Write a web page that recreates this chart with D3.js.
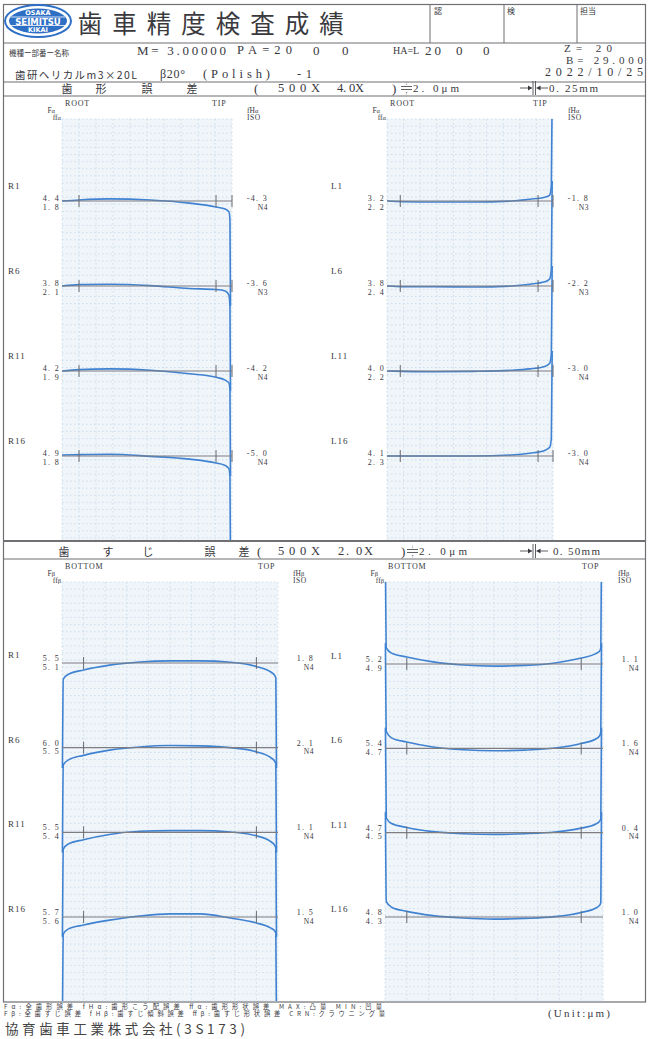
<!DOCTYPE html>
<html><head><meta charset="utf-8">
<script src="https://cdn.jsdelivr.net/npm/d3@7"></script>
<style>body{margin:0;background:#fff}svg{display:block}</style>
</head><body>
<svg id="c" width="649" height="1039"></svg>
<script>
// ---------- DATA ----------
const profileRowsR = ["R1", "R6", "R11", "R16"];
const profileRowsL = ["L1", "L6", "L11", "L16"];
// normalized position along evaluation (0 = ROOT, 1 = TIP)
const profilePosR = [0, 0.1, 0.28, 0.52, 0.75, 0.906, 0.96, 0.982, 0.988, 0.991];
const profilePosL = [0, 0.1, 0.28, 0.52, 0.75, 0.86, 0.95, 0.98, 0.99, 0.995];
// deviation in µm
const profileDevR = [
  [0, 0.3, 0.6, 0.3, -0.6, -1.7, -2.3, -3.1, -5.4, -30],
  [0, 0.4, 0.5, 0.1, -0.7, -1.0, -1.4, -2.6, -6.0, -30],
  [0, 0.4, 0.6, 0.2, -0.8, -1.8, -2.6, -3.4, -5.5, -30],
  [0.3, 0.4, 0.5, -0.1, -0.9, -2.0, -2.7, -3.6, -6.0, -30]
];
const profileDevL = [
  [0, -0.2, -0.3, -0.3, 0, 0.5, 1.1, 1.7, 4.5, 30],
  [0, -0.2, -0.2, -0.3, 0, 0.5, 1.2, 2.0, 5.0, 30],
  [0, -0.1, -0.2, -0.1, 0.2, 0.6, 1.3, 2.2, 5.0, 30],
  [0, 0, 0, 0, 0.3, 0.8, 1.6, 2.5, 5.0, 30]
];
const profileFaR = ["4. 4", "3. 8", "4. 2", "4. 9"];
const profileFfaR = ["1. 8", "2. 1", "1. 9", "1. 8"];
const profileFHaR = ["-4. 3", "-3. 6", "-4. 2", "-5. 0"];
const profileIsoR = ["N4", "N3", "N4", "N4"];
const profileFaL = ["3. 2", "3. 8", "4. 0", "4. 1"];
const profileFfaL = ["2. 2", "2. 4", "2. 2", "2. 3"];
const profileFHaL = ["-1. 8", "-2. 2", "-3. 0", "-3. 0"];
const profileIsoL = ["N3", "N3", "N4", "N4"];

const leadRowsR = ["R1", "R6", "R11", "R16"];
const leadRowsL = ["L1", "L6", "L11", "L16"];
// normalized position along face width (0 = BOTTOM, 1 = TOP)
const leadPos = [0.002, 0.006, 0.03, 0.1, 0.22, 0.36, 0.5, 0.64, 0.78, 0.9, 0.965, 0.985, 0.99, 0.993];
const leadDevR = [
  [-30, -4.6, -3.2, -2.0, -0.6, 0.3, 0.6, 0.6, 0.2, -1.0, -2.5, -3.6, -4.3, -30],
  [-30, -4.9, -3.5, -2.2, -0.7, 0.2, 0.6, 0.5, 0.0, -1.2, -2.8, -3.9, -4.6, -30],
  [-30, -4.8, -3.3, -2.1, -0.6, 0.3, 0.5, 0.5, 0.1, -1.0, -2.6, -3.7, -4.5, -30],
  [-30, -4.9, -3.4, -2.3, -0.9, 0.3, 0.9, 0.9, -0.3, -1.7, -3.1, -4.0, -4.6, -30]
];
const leadDevL = [
  [30, 4.6, 3.1, 2.0, 0.6, -0.3, -0.6, -0.4, 0.3, 1.7, 2.9, 3.7, 4.6, 30],
  [30, 4.8, 3.0, 1.8, 0.4, -0.4, -0.7, -0.5, 0.1, 1.4, 2.6, 3.6, 4.8, 30],
  [30, 4.2, 2.6, 1.5, 0.3, -0.3, -0.5, -0.3, 0.2, 1.3, 2.4, 3.3, 4.0, 30],
  [30, 4.4, 2.8, 1.6, 0.4, -0.3, -0.6, -0.4, 0.1, 1.3, 2.5, 3.4, 4.2, 30]
];
const leadFbR = ["5. 5", "6. 0", "5. 5", "5. 7"];
const leadFfbR = ["5. 1", "5. 5", "5. 4", "5. 6"];
const leadFHbR = ["1. 8", "2. 1", "1. 1", "1. 5"];
const leadIsoR = ["N4", "N4", "N4", "N4"];
const leadFbL = ["5. 2", "5. 4", "4. 7", "4. 8"];
const leadFfbL = ["4. 9", "4. 7", "4. 5", "4. 3"];
const leadFHbL = ["1. 1", "1. 6", "0. 4", "1. 0"];
const leadIsoL = ["N4", "N4", "N4", "N4"];

// ---------- DRAWING ----------
const svg = d3.select("#c");
const INK = "#38383e", FRAME = "#6f6f74", BLUE = "#3f82d2";
const SERIF = "'Liberation Serif','DejaVu Serif',serif";
const JP = "'Noto Sans CJK JP','Noto Sans',sans-serif";

function txt(x, y, s, o = {}) {
  const t = svg.append("text").attr("x", x).attr("y", y).text(s)
    .attr("font-family", o.ff || SERIF).attr("font-size", o.fs || 10)
    .attr("fill", o.fill || INK).attr("text-anchor", o.anchor || "start")
    .attr("dominant-baseline", "central")
    .attr("letter-spacing", o.ls || 0).attr("font-weight", o.fw || 400);
  if (o.tl) t.attr("textLength", o.tl).attr("lengthAdjust", "spacing");
  return t;
}
function hline(x1, x2, y, w = 1, c = FRAME) {
  svg.append("line").attr("x1", x1).attr("x2", x2).attr("y1", y).attr("y2", y).attr("stroke", c).attr("stroke-width", w);
}
function vline(x, y1, y2, w = 1, c = FRAME) {
  svg.append("line").attr("x1", x).attr("x2", x).attr("y1", y1).attr("y2", y2).attr("stroke", c).attr("stroke-width", w);
}

// frame
svg.append("rect").attr("x", 3.5).attr("y", 4.5).attr("width", 642).attr("height", 997.5)
  .attr("fill", "none").attr("stroke", FRAME).attr("stroke-width", 1.2);
hline(3, 646, 43);
hline(3, 646, 82);
hline(3, 646, 96);
hline(3, 646, 541, 2);
hline(3, 646, 559);
vline(430, 4, 43); vline(504, 4, 43); vline(577, 4, 43);

// logo
const logo = svg.append("g").attr("transform", "translate(38,21)");
logo.append("ellipse").attr("rx", 33).attr("ry", 16).attr("fill", "#fff").attr("stroke", "#2e6fc6").attr("stroke-width", 2);
logo.append("ellipse").attr("rx", 29).attr("ry", 12.5).attr("fill", "#2e6fc6");
logo.append("line").attr("x1", -27).attr("x2", 27).attr("y1", -4).attr("y2", -4).attr("stroke", "#fff").attr("stroke-width", 0.8);
logo.append("line").attr("x1", -27).attr("x2", 27).attr("y1", 4.5).attr("y2", 4.5).attr("stroke", "#fff").attr("stroke-width", 0.8);
[["OSAKA", -8, 6.5], ["SEIMITSU", 0.5, 8.5], ["KIKAI", 8.8, 6.5]].forEach(([s, y, fs]) =>
  logo.append("text").attr("y", y).attr("text-anchor", "middle").attr("dominant-baseline", "central")
    .attr("font-family", "'DejaVu Sans',sans-serif").attr("font-weight", 700).attr("font-size", fs)
    .attr("fill", "#fff").text(s));

// title
const titleChars = ["歯", "車", "精", "度", "検", "査", "成", "績"];
titleChars.forEach((ch, i) => txt(90 + i * 34.5, 22, ch, { ff: JP, fs: 24.5, anchor: "middle", fill: "#3a3a3e" }));
txt(434, 10, "認", { ff: JP, fs: 8 });
txt(507, 10, "検", { ff: JP, fs: 8 });
txt(580, 10, "担当", { ff: JP, fs: 8 });

// header rows
txt(9, 52, "機種ー部番ー名称", { ff: JP, fs: 7.5 });
txt(137, 50, "M= 3.00000", { fs: 13, tl: 89 });
txt(237, 50, "PA=20", { fs: 12.5, tl: 55 });
txt(313, 50, "0", { fs: 13 });
txt(342, 50, "0", { fs: 13 });
txt(393, 50, "HA=L", { fs: 10 });
txt(425, 50, "20", { fs: 13, tl: 16 });
txt(456, 50, "0", { fs: 13 });
txt(483, 50, "0", { fs: 13 });
txt(564, 48, "Z= 20", { fs: 11, tl: 48 });
txt(566, 59.5, "B= 29.000", { fs: 11, tl: 77 });
txt(545, 71.5, "2022/10/25", { fs: 12, tl: 98 });
txt(15, 74, "歯研ヘリカルm3×20L", { ff: JP, fs: 10.5, tl: 122 });
txt(160, 74, "β20°", { fs: 12, tl: 25 });
txt(203, 74, "(Polish)", { fs: 12.5, tl: 67 });
txt(297, 74, "-1", { fs: 12.5, tl: 15 });

function sectionHeader(y, chars, xs, p) {
  chars.forEach((ch, i) => txt(xs[i], y, ch, { ff: JP, fs: 11, anchor: "middle" }));
  txt(p.paren1, y, "(", { fs: 13 });
  txt(p.z1x, y, p.z1, { fs: 12.5, tl: 42 });
  txt(p.z2x, y, p.z2, { fs: 12.5, tl: p.z2w });
  txt(p.paren2, y, ")", { fs: 13 });
  // scale symbol
  const sx = p.symx;
  hline(sx, sx + 11, y - 1.5, 0.8, INK); hline(sx, sx + 11, y + 1.5, 0.8, INK);
  txt(sx + 5.5, y - 5, "↓", { fs: 5, anchor: "middle" });
  txt(sx + 5.5, y + 5, "↑", { fs: 5, anchor: "middle" });
  txt(sx + 12, y, p.pitch, { fs: 11, tl: p.pitchw });
  // pitch arrows
  const ax = p.arrx;
  hline(ax, ax + 12, y, 0.8, INK);
  svg.append("path").attr("d", `M${ax + 12},${y} l-4,-2.5 l0,5 z`).attr("fill", INK);
  vline(ax + 13, y - 7, y + 7, 0.8, INK); vline(ax + 15.5, y - 7, y + 7, 0.8, INK);
  hline(ax + 16.5, ax + 28, y, 0.8, INK);
  svg.append("path").attr("d", `M${ax + 16.5},${y} l4,-2.5 l0,5 z`).attr("fill", INK);
  txt(p.lenx, y, p.len, { fs: 11, tl: p.lenw });
}
sectionHeader(88, ["歯", "形", "誤", "差"], [67, 101, 147, 192],
  { paren1: 254, z1x: 278, z1: "500X", z2x: 337, z2: "4. 0X", z2w: 27, paren2: 392, symx: 401, pitch: "2. 0μm", pitchw: 46,
    arrx: 520, lenx: 549, len: "0. 25mm", lenw: 49 });
sectionHeader(551, ["歯", "す", "じ", "誤", "差"], [64, 108, 148, 210, 244],
  { paren1: 257, z1x: 278, z1: "500X", z2x: 338, z2: "2. 0X", z2w: 35, paren2: 401, symx: 407, pitch: "2. 0μm", pitchw: 48,
    arrx: 520, lenx: 553, len: "0. 50mm", lenw: 47 });

// ---------- PANELS ----------
let clipId = 0;
function panel(cfg) {
  const x = d3.scaleLinear().domain([0, 1]).range([cfg.x0, cfg.x1]);
  const yRow = d3.scalePoint().domain(cfg.rows).range([cfg.r0, cfg.r1]);
  const yDev = d3.scaleLinear().domain([-1, 1]).range([3.5, -3.5]);
  const g = svg.append("g");
  // grid background
  g.append("rect").attr("x", cfg.x0).attr("y", cfg.y0).attr("width", cfg.x1 - cfg.x0).attr("height", cfg.y1 - cfg.y0)
    .attr("fill", "#f0f5f9");
  const gl = g.append("g").attr("stroke", "#c3d8ea").attr("stroke-width", 0.8).attr("stroke-dasharray", "1.5,2.5");
  d3.range(0, 1.0001, 0.1).forEach(t => gl.append("line").attr("x1", x(t)).attr("x2", x(t)).attr("y1", cfg.y0).attr("y2", cfg.y1));
  d3.range(cfg.y0, cfg.y1, 7.1).forEach(yy => gl.append("line").attr("x1", cfg.x0).attr("x2", cfg.x1).attr("y1", yy).attr("y2", yy));
  // header labels
  txt(cfg.x0 + 3, cfg.y0 - 16, cfg.lt, { fs: 8, ls: 0.8 });
  txt(cfg.x1 - cfg.rtw, cfg.y0 - 16, cfg.rt, { fs: 8, ls: 0.8 });
  const lab1 = txt(cfg.x0 - 7, cfg.y0 - 9, "", { fs: 7.5, anchor: "end" });
  lab1.append("tspan").text("F");
  lab1.append("tspan").text(cfg.sym).attr("font-size", 6.5);
  const lab2 = txt(cfg.x0 - 1, cfg.y0 - 2, "", { fs: 7.5, anchor: "end" });
  lab2.append("tspan").text("ff");
  lab2.append("tspan").text(cfg.sym).attr("font-size", 6.5);
  const lab3 = txt(cfg.x1 + 15, cfg.y0 - 9, "", { fs: 7.5 });
  lab3.append("tspan").text("fH");
  lab3.append("tspan").text(cfg.sym).attr("font-size", 6.5);
  txt(cfg.x1 + 15, cfg.y0 - 2, "ISO", { fs: 7.5, ls: 0.5 });
  // clip
  const id = "clip" + (clipId++);
  svg.append("clipPath").attr("id", id).append("rect")
    .attr("x", cfg.x0 - 2).attr("y", cfg.y0).attr("width", cfg.x1 - cfg.x0 + 4).attr("height", cfg.y1 - cfg.y0);
  cfg.rows.forEach((r, i) => {
    const yb = yRow(r);
    // baseline & ticks
    hline(cfg.x0, cfg.x1, yb, 1.1, "#7d7d82");
    cfg.ticks.forEach(t => vline(x(t), yb - 6, yb + 6, 1, "#6a6a70"));
    // labels
    txt(cfg.rowX, yb + cfg.rowDy, r, { fs: 9, ls: 1 });
    txt(cfg.x0 - 2, yb + cfg.vDy - 0.5, cfg.v1[i], { fs: 8, anchor: "end", ls: 1.3 });
    txt(cfg.x0 - 2, yb + cfg.vDy + 8, cfg.v2[i], { fs: 8, anchor: "end", ls: 1.3 });
    txt(cfg.x1 + 36, yb + cfg.vDy - 0.5, cfg.v3[i], { fs: 8, anchor: "end", ls: 1.3 });
    txt(cfg.x1 + 36, yb + cfg.vDy + 8, cfg.v4[i], { fs: 7.5, anchor: "end", ls: 0.5 });
    // trace
    const pts = cfg.pos.map((p, j) => [p, cfg.devs[i][j]]);
    const line = d3.line().x(d => x(d[0])).y(d => yb + yDev(d[1]) - yDev(0)).curve(d3.curveMonotoneX);
    g.append("path").attr("d", line(pts)).attr("fill", "none").attr("stroke", BLUE)
      .attr("stroke-width", 1.6).attr("clip-path", `url(#${id})`);
  });
}

panel({ x0: 62, x1: 232, y0: 119, y1: 540, r0: 201, r1: 456, rows: profileRowsR, pos: profilePosR, devs: profileDevR,
  lt: "ROOT", rt: "TIP", rtw: 20, sym: "α", ticks: [0.1, 0.906, 1], rowX: 8, rowDy: -15, vDy: -2,
  v1: profileFaR, v2: profileFfaR, v3: profileFHaR, v4: profileIsoR });
panel({ x0: 387, x1: 553, y0: 119, y1: 540, r0: 201, r1: 456, rows: profileRowsL, pos: profilePosL, devs: profileDevL,
  lt: "ROOT", rt: "TIP", rtw: 20, sym: "α", ticks: [0.08, 0.91, 1], rowX: 331, rowDy: -15, vDy: -2,
  v1: profileFaL, v2: profileFfaL, v3: profileFHaL, v4: profileIsoL });
panel({ x0: 62, x1: 278, y0: 582, y1: 1001, r0: 663, r1: 917, rows: leadRowsR, pos: leadPos, devs: leadDevR,
  lt: "BOTTOM", rt: "TOP", rtw: 20, sym: "β", ticks: [0.1, 0.9], rowX: 8, rowDy: -8, vDy: -4,
  v1: leadFbR, v2: leadFfbR, v3: leadFHbR, v4: leadIsoR });
panel({ x0: 385, x1: 603, y0: 582, y1: 1001, r0: 664, r1: 917, rows: leadRowsL, pos: leadPos, devs: leadDevL,
  lt: "BOTTOM", rt: "TOP", rtw: 21, sym: "β", ticks: [0.1, 0.9], rowX: 331, rowDy: -8, vDy: -4,
  v1: leadFbL, v2: leadFfbL, v3: leadFHbL, v4: leadIsoL });

// footer
txt(4, 1006, "Fα:全歯形誤差  fHα:歯形こう配誤差  ffα:歯形形状誤差  MAX:凸量  MIN:凹量", { ff: JP, fs: 6.3, tl: 378 });
txt(4, 1013.5, "Fβ:全歯すじ誤差  fHβ:歯すじ傾斜誤差  ffβ:歯すじ形状誤差  CRN:クラウニング量", { ff: JP, fs: 6.3, tl: 381 });
txt(5, 1028, "協育歯車工業株式会社(3S173)", { ff: JP, fs: 13.5, fill: "#444", tl: 240 });
txt(548, 1013, "(Unit:μm)", { fs: 11, tl: 62 });
</script>
</body></html>
